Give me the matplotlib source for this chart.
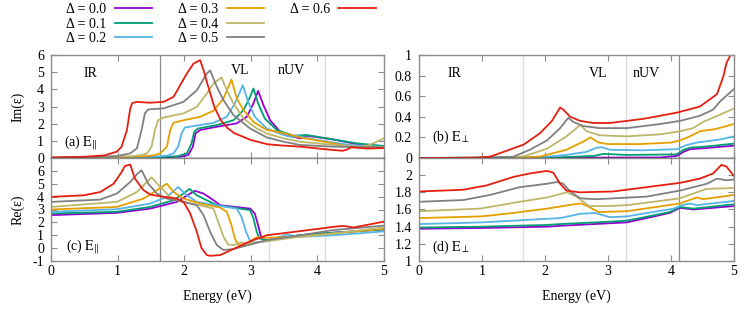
import matplotlib
matplotlib.use("Agg")
import matplotlib.pyplot as plt

plt.rcParams['font.family'] = ['Liberation Serif', 'DejaVu Serif']
plt.rcParams['mathtext.fontset'] = 'stix'
plt.rcParams['axes.unicode_minus'] = False

deltas = ["0.0", "0.1", "0.2", "0.3", "0.4", "0.5", "0.6"]
colors = ["#9400d3", "#009e73", "#56b4e9", "#e69f00", "#bdb76b", "#808080", "#e51e10"]

# ---------------- (a) Im(eps) parallel ----------------
im_par_E_00 = [0, 1.0, 1.6, 1.95, 2.06, 2.13, 2.17, 2.24, 2.49, 2.79, 2.94, 3.04, 3.11, 3.19, 3.29, 3.44, 3.59, 3.74, 3.84, 4.24, 4.6, 5.0]
im_par_v_00 = [0.0, 0.01, 0.03, 0.08, 0.17, 0.66, 1.43, 1.63, 1.82, 2.02, 2.4, 3.18, 3.91, 3.08, 2.2, 1.53, 1.3, 1.14, 1.3, 1.08, 0.8, 0.65]
im_par_E_01 = [0, 1.0, 1.6, 1.9, 2.04, 2.11, 2.15, 2.21, 2.49, 2.74, 2.89, 2.99, 3.04, 3.11, 3.21, 3.39, 3.64, 3.84, 4.24, 4.6, 5.0]
im_par_v_01 = [0.0, 0.01, 0.04, 0.1, 0.27, 0.85, 1.53, 1.72, 1.92, 2.2, 2.79, 3.56, 4.05, 3.18, 2.3, 1.63, 1.3, 1.34, 1.08, 0.85, 0.7]
im_par_E_02 = [0, 1.0, 1.5, 1.75, 1.84, 1.91, 1.96, 2.01, 2.24, 2.44, 2.64, 2.76, 2.88, 2.96, 3.06, 3.24, 3.49, 3.64, 3.69, 3.99, 4.49, 5.0]
im_par_v_02 = [0.0, 0.02, 0.06, 0.14, 0.27, 0.66, 1.43, 1.78, 1.92, 2.05, 2.4, 3.18, 4.24, 3.27, 2.4, 1.72, 1.34, 1.2, 1.3, 1.05, 0.76, 0.65]
im_par_E_03 = [0, 1.0, 1.4, 1.55, 1.64, 1.74, 1.79, 1.84, 1.99, 2.24, 2.44, 2.59, 2.71, 2.79, 2.89, 3.04, 3.24, 3.31, 3.49, 3.74, 4.24, 4.49, 5.0]
im_par_v_03 = [0.01, 0.04, 0.1, 0.16, 0.27, 0.66, 1.63, 2.05, 2.2, 2.4, 2.75, 3.47, 4.57, 3.47, 2.79, 2.1, 1.63, 1.6, 1.45, 1.2, 0.85, 0.66, 0.62]
im_par_E_04 = [0, 0.8, 1.2, 1.35, 1.44, 1.51, 1.56, 1.61, 1.69, 1.99, 2.19, 2.34, 2.44, 2.56, 2.64, 2.74, 2.89, 3.09, 3.24, 3.49, 3.74, 4.24, 4.64, 4.79, 5.0]
im_par_v_04 = [0.02, 0.05, 0.1, 0.16, 0.27, 0.66, 1.63, 2.2, 2.36, 2.6, 2.98, 3.76, 4.34, 4.69, 3.95, 3.18, 2.3, 1.72, 1.43, 1.14, 0.95, 0.76, 0.66, 0.76, 1.15]
im_par_E_05 = [0, 0.5, 1.0, 1.19, 1.29, 1.36, 1.41, 1.46, 1.69, 1.99, 2.19, 2.34, 2.39, 2.49, 2.59, 2.74, 2.99, 3.24, 3.49, 3.74, 4.24, 5.0]
im_par_v_05 = [0.02, 0.04, 0.12, 0.27, 0.56, 1.63, 2.6, 2.83, 2.89, 3.27, 3.95, 4.92, 5.1, 4.15, 3.37, 2.5, 1.72, 1.2, 0.95, 0.76, 0.66, 0.62]
im_par_E_06 = [0, 0.5, 0.8, 0.99, 1.06, 1.14, 1.19, 1.22, 1.29, 1.49, 1.69, 1.84, 1.94, 2.04, 2.14, 2.24, 2.3, 2.35, 2.45, 2.55, 2.65, 2.75, 3.0, 3.25, 3.5, 3.75, 4.0, 4.2, 4.38, 4.45, 4.5, 4.75, 5.0]
im_par_v_06 = [0.03, 0.07, 0.15, 0.37, 0.66, 1.63, 2.89, 3.2, 3.27, 3.22, 3.27, 3.56, 4.24, 4.92, 5.5, 5.7, 5.0, 4.3, 3.0, 2.2, 1.75, 1.45, 1.05, 0.8, 0.72, 0.66, 0.56, 0.48, 0.42, 0.5, 0.62, 0.55, 0.58]

# ---------------- (c) Re(eps) parallel ----------------
re_par_E_00 = [0, 0.99, 1.49, 1.89, 2.09, 2.16, 2.29, 2.44, 2.54, 2.99, 3.06, 3.11, 3.16, 3.24, 3.74, 4.24, 5.0]
re_par_v_00 = [2.56, 2.74, 3.07, 3.59, 4.24, 4.45, 4.24, 3.72, 3.33, 3.07, 2.69, 1.78, 0.75, 0.62, 1.0, 1.2, 1.45]
re_par_E_01 = [0, 0.99, 1.49, 1.84, 1.99, 2.08, 2.19, 2.39, 2.49, 2.84, 2.99, 3.04, 3.09, 3.13, 3.24, 3.74, 4.24, 5.0]
re_par_v_01 = [2.69, 2.82, 3.2, 3.72, 4.24, 4.6, 4.1, 3.59, 3.33, 3.07, 2.95, 2.3, 1.26, 0.75, 0.62, 1.0, 1.2, 1.45]
re_par_E_02 = [0, 0.99, 1.49, 1.74, 1.91, 2.04, 2.19, 2.54, 2.79, 2.86, 2.93, 2.99, 3.04, 3.24, 3.54, 3.74, 4.24, 5.0]
re_par_v_02 = [2.82, 3.02, 3.46, 3.98, 4.75, 4.1, 3.59, 3.28, 3.07, 2.43, 1.26, 0.54, 0.44, 0.54, 1.06, 0.88, 1.0, 1.3]
re_par_E_03 = [0, 0.99, 1.39, 1.59, 1.74, 1.84, 1.99, 2.24, 2.54, 2.64, 2.71, 2.76, 2.81, 2.89, 2.99, 3.09, 3.24, 3.74, 4.24, 5.0]
re_par_v_03 = [3.0, 3.2, 3.85, 4.5, 5.0, 4.36, 3.85, 3.46, 3.15, 2.82, 1.78, 0.75, 0.28, 0.23, 0.54, 0.85, 0.8, 0.9, 1.14, 1.5]
re_par_E_04 = [0, 0.99, 1.29, 1.44, 1.51, 1.64, 1.79, 1.99, 2.24, 2.44, 2.51, 2.59, 2.66, 2.74, 2.84, 2.94, 3.24, 3.74, 4.24, 5.0]
re_par_v_04 = [3.2, 3.59, 4.36, 5.14, 5.5, 4.75, 3.98, 3.59, 3.33, 3.07, 2.04, 0.88, 0.28, 0.23, 0.44, 0.36, 0.54, 0.88, 1.14, 1.6]
re_par_E_05 = [0, 0.74, 0.99, 1.19, 1.3, 1.36, 1.46, 1.59, 1.74, 1.99, 2.19, 2.29, 2.39, 2.49, 2.59, 2.74, 3.24, 3.74, 4.24, 5.0]
re_par_v_05 = [3.59, 3.77, 4.24, 5.14, 5.79, 6.05, 5.01, 4.24, 3.85, 3.59, 3.33, 2.56, 1.26, 0.23, -0.15, -0.07, 0.62, 1.0, 1.4, 1.75]
re_par_E_06 = [0, 0.49, 0.74, 0.94, 1.06, 1.11, 1.19, 1.26, 1.39, 1.49, 1.69, 1.89, 1.99, 2.09, 2.19, 2.26, 2.34, 2.39, 2.54, 3.0, 3.24, 3.74, 4.24, 4.39, 4.54, 5.0]
re_par_v_06 = [3.98, 4.1, 4.36, 5.0, 5.9, 6.38, 6.49, 5.4, 4.5, 4.16, 3.98, 3.85, 3.59, 2.69, 1.26, 0.0, -0.54, -0.6, -0.54, 0.55, 1.0, 1.32, 1.65, 1.73, 1.6, 2.06]

# ---------------- (b) Im(eps) perpendicular ----------------
im_perp_E_00 = [0, 3.83, 4.09, 4.2, 4.3, 4.62, 5.0]
im_perp_v_00 = [0, 0.005, 0.02, 0.06, 0.085, 0.1, 0.12]
im_perp_E_01 = [0, 2.2, 2.77, 2.93, 3.3, 4.09, 4.2, 4.3, 4.62, 5.0]
im_perp_v_01 = [0, 0.006, 0.02, 0.04, 0.03, 0.035, 0.08, 0.1, 0.115, 0.14]
im_perp_E_02 = [0, 1.9, 2.34, 2.66, 2.82, 2.9, 3.03, 3.56, 4.09, 4.25, 4.41, 4.78, 5.0]
im_perp_v_02 = [0, 0.005, 0.03, 0.06, 0.1, 0.105, 0.08, 0.075, 0.085, 0.126, 0.15, 0.18, 0.21]
im_perp_E_03 = [0, 1.6, 1.92, 2.34, 2.61, 2.72, 2.85, 3.0, 3.5, 4.0, 4.14, 4.3, 4.46, 4.7, 5.0]
im_perp_v_03 = [0, 0.003, 0.013, 0.08, 0.16, 0.2, 0.15, 0.135, 0.135, 0.15, 0.17, 0.21, 0.26, 0.28, 0.33]
im_perp_E_04 = [0, 1.3, 1.66, 2.03, 2.34, 2.56, 2.66, 2.87, 3.3, 3.83, 4.14, 4.35, 4.51, 5.0]
im_perp_v_04 = [0, 0.003, 0.015, 0.09, 0.21, 0.32, 0.26, 0.22, 0.21, 0.23, 0.26, 0.29, 0.35, 0.48]
im_perp_E_05 = [0, 1.1, 1.5, 1.76, 2.03, 2.24, 2.37, 2.45, 2.61, 2.87, 3.3, 3.83, 4.14, 4.46, 4.67, 4.78, 5.0]
im_perp_v_05 = [0, 0.003, 0.013, 0.08, 0.17, 0.29, 0.39, 0.35, 0.31, 0.29, 0.29, 0.33, 0.36, 0.41, 0.47, 0.55, 0.67]
im_perp_E_06 = [0, 0.9, 1.13, 1.39, 1.66, 1.92, 2.11, 2.24, 2.29, 2.4, 2.56, 2.77, 3.03, 3.56, 4.09, 4.46, 4.73, 4.83, 4.88, 4.96, 5.0]
im_perp_v_06 = [0, 0.003, 0.013, 0.07, 0.13, 0.24, 0.36, 0.49, 0.47, 0.4, 0.36, 0.34, 0.34, 0.38, 0.44, 0.5, 0.62, 0.79, 0.92, 1.02, 1.08]

# ---------------- (d) Re(eps) perpendicular ----------------
re_perp_E_00 = [0, 1.0, 2.03, 2.24, 3.3, 3.98, 4.14, 4.35, 5.0]
re_perp_v_00 = [1.376, 1.385, 1.40, 1.41, 1.45, 1.56, 1.62, 1.60, 1.64]
re_perp_E_01 = [0, 1.0, 2.03, 2.24, 3.08, 3.3, 3.98, 4.14, 4.35, 5.0]
re_perp_v_01 = [1.39, 1.40, 1.42, 1.43, 1.46, 1.47, 1.57, 1.63, 1.61, 1.66]
re_perp_E_02 = [0, 1.0, 1.5, 2.24, 2.56, 2.8, 3.03, 3.3, 4.04, 4.17, 4.3, 4.41, 5.0]
re_perp_v_02 = [1.43, 1.45, 1.47, 1.50, 1.55, 1.56, 1.51, 1.52, 1.61, 1.65, 1.67, 1.65, 1.70]
re_perp_E_03 = [0, 1.0, 1.5, 2.03, 2.45, 2.58, 2.7, 2.85, 3.3, 4.14, 4.41, 4.51, 5.0]
re_perp_v_03 = [1.50, 1.52, 1.56, 1.61, 1.66, 1.67, 1.63, 1.57, 1.58, 1.67, 1.74, 1.72, 1.77]
re_perp_E_04 = [0, 0.97, 1.6, 2.03, 2.35, 2.5, 2.7, 2.98, 3.3, 4.14, 4.56, 5.0]
re_perp_v_04 = [1.58, 1.61, 1.69, 1.74, 1.80, 1.75, 1.64, 1.64, 1.65, 1.73, 1.84, 1.85]
re_perp_E_05 = [0, 0.7, 1.13, 1.6, 2.03, 2.19, 2.29, 2.4, 2.56, 2.82, 3.61, 4.14, 4.57, 4.73, 4.88, 5.0]
re_perp_v_05 = [1.69, 1.71, 1.77, 1.86, 1.90, 1.92, 1.90, 1.81, 1.73, 1.72, 1.75, 1.82, 1.90, 1.96, 1.94, 1.95]
re_perp_E_06 = [0, 0.7, 1.07, 1.5, 1.76, 2.03, 2.13, 2.24, 2.34, 2.55, 3.08, 3.61, 4.14, 4.46, 4.67, 4.8, 4.88, 5.0]
re_perp_v_06 = [1.81, 1.83, 1.88, 1.98, 2.02, 2.05, 2.03, 1.90, 1.82, 1.80, 1.81, 1.86, 1.91, 1.96, 2.02, 2.12, 2.10, 1.99]

im_par = [(im_par_E_00, im_par_v_00), (im_par_E_01, im_par_v_01), (im_par_E_02, im_par_v_02),
          (im_par_E_03, im_par_v_03), (im_par_E_04, im_par_v_04), (im_par_E_05, im_par_v_05),
          (im_par_E_06, im_par_v_06)]
re_par = [(re_par_E_00, re_par_v_00), (re_par_E_01, re_par_v_01), (re_par_E_02, re_par_v_02),
          (re_par_E_03, re_par_v_03), (re_par_E_04, re_par_v_04), (re_par_E_05, re_par_v_05),
          (re_par_E_06, re_par_v_06)]
im_perp = [(im_perp_E_00, im_perp_v_00), (im_perp_E_01, im_perp_v_01), (im_perp_E_02, im_perp_v_02),
           (im_perp_E_03, im_perp_v_03), (im_perp_E_04, im_perp_v_04), (im_perp_E_05, im_perp_v_05),
           (im_perp_E_06, im_perp_v_06)]
re_perp = [(re_perp_E_00, re_perp_v_00), (re_perp_E_01, re_perp_v_01), (re_perp_E_02, re_perp_v_02),
           (re_perp_E_03, re_perp_v_03), (re_perp_E_04, re_perp_v_04), (re_perp_E_05, re_perp_v_05),
           (re_perp_E_06, re_perp_v_06)]

# boundaries (vertical guide lines)
left_dark = [1.64]
left_light = [3.28, 4.11]
right_dark = [4.13]
right_light = [1.65, 3.29]

fig = plt.figure(figsize=(7.47, 3.12), dpi=100)
W, H = 747.0, 312.0
axA = fig.add_axes([51 / W, 1 - 158 / H, 333 / W, 103 / H])
axC = fig.add_axes([51 / W, 1 - 261 / H, 333 / W, 103 / H])
axB = fig.add_axes([419 / W, 1 - 158 / H, 315 / W, 103 / H])
axD = fig.add_axes([419 / W, 1 - 261 / H, 315 / W, 103 / H])

GRAY = "#8c8c8c"
LIGHT = "#dcdcdc"
LW = 1.3
TFS = 10

panels = [(axA, im_par, left_dark, left_light), (axC, re_par, left_dark, left_light),
          (axB, im_perp, right_dark, right_light), (axD, re_perp, right_dark, right_light)]

handles = {}
for ax, data, dark, light in panels:
    for x in light:
        ax.axvline(x, color=LIGHT, lw=0.9, zorder=0)
    for x in dark:
        ax.axvline(x, color=GRAY, lw=0.9, zorder=0)
    for i, (E, v) in enumerate(data):
        ln, = ax.plot(E, v, color=colors[i], lw=LW, label="Δ = " + deltas[i], zorder=2)
        if ax is axA:
            handles[i] = ln
    ax.set_xlim(0, 5)
    ax.set_xticks([0, 1, 2, 3, 4, 5])
    for s in ax.spines.values():
        s.set_color(GRAY)
        s.set_linewidth(1.0)
    ax.tick_params(direction="in", top=True, right=True, length=4, width=0.8,
                   color=GRAY, labelsize=TFS)
    ax.tick_params(axis="x", pad=3)
    ax.tick_params(axis="y", pad=5)

for ax in (axA, axB):
    ax.tick_params(labelbottom=False)
    ax.spines["bottom"].set_color("black")
    ax.spines["bottom"].set_zorder(3)

axA.set_ylim(0, 6)
axA.set_yticks([0, 1, 2, 3, 4, 5, 6])
axC.set_ylim(-1, 7)
axC.set_yticks([-1, 0, 1, 2, 3, 4, 5, 6])
axB.set_ylim(0, 1)
axB.set_yticks([0, 0.2, 0.4, 0.6, 0.8, 1])
axB.set_yticklabels(["0", "0.2", "0.4", "0.6", "0.8", "1"])
axD.set_ylim(1, 2.2)
axD.set_yticks([1, 1.2, 1.4, 1.6, 1.8, 2])
axD.set_yticklabels(["1", "1.2", "1.4", "1.6", "1.8", "2"])

LFS = 10
axA.set_ylabel("Im(ε)", fontsize=LFS)
axC.set_ylabel("Re(ε)", fontsize=LFS)
axC.set_xlabel("Energy (eV)", fontsize=LFS, labelpad=8)
axD.set_xlabel("Energy (eV)", fontsize=LFS, labelpad=8)
axA.yaxis.set_label_coords(-0.08, 0.5)
axC.yaxis.set_label_coords(-0.08, 0.5)

RFS = 10
axA.text(0.6, 4.95, "IR", fontsize=RFS, ha="center", va="center")
axA.text(2.84, 5.1, "VL", fontsize=RFS, ha="center", va="center")
axA.text(3.6, 5.1, "nUV", fontsize=RFS, ha="center", va="center")
axB.text(0.57, 0.82, "IR", fontsize=RFS, ha="center", va="center")
axB.text(2.85, 0.82, "VL", fontsize=RFS, ha="center", va="center")
axB.text(3.6, 0.82, "nUV", fontsize=RFS, ha="center", va="center")

axA.text(0.2, 0.9, r"(a) $\mathrm{E}_{\|}$", fontsize=RFS, ha="left", va="center")
axC.text(0.22, 0.1, r"(c) $\mathrm{E}_{\|}$", fontsize=RFS, ha="left", va="center")
axB.text(0.2, 0.2, r"(b) $\mathrm{E}_{\perp}$", fontsize=RFS, ha="left", va="center")
axD.text(0.2, 1.16, r"(d) $\mathrm{E}_{\perp}$", fontsize=RFS, ha="left", va="center")

col_x = [66, 178, 290]
groups = [[0, 1, 2], [3, 4, 5], [6]]
for cx, grp in zip(col_x, groups):
    fig.legend([handles[i] for i in grp], ["Δ = " + deltas[i] for i in grp],
               loc="upper left", bbox_to_anchor=(cx / W, 1 - 3 / H), ncol=1,
               frameon=False, markerfirst=False, fontsize=10, handlelength=2.7,
               handletextpad=0.6, labelspacing=0.12,
               borderpad=0, borderaxespad=0)

fig.savefig("out.png", dpi=100)
